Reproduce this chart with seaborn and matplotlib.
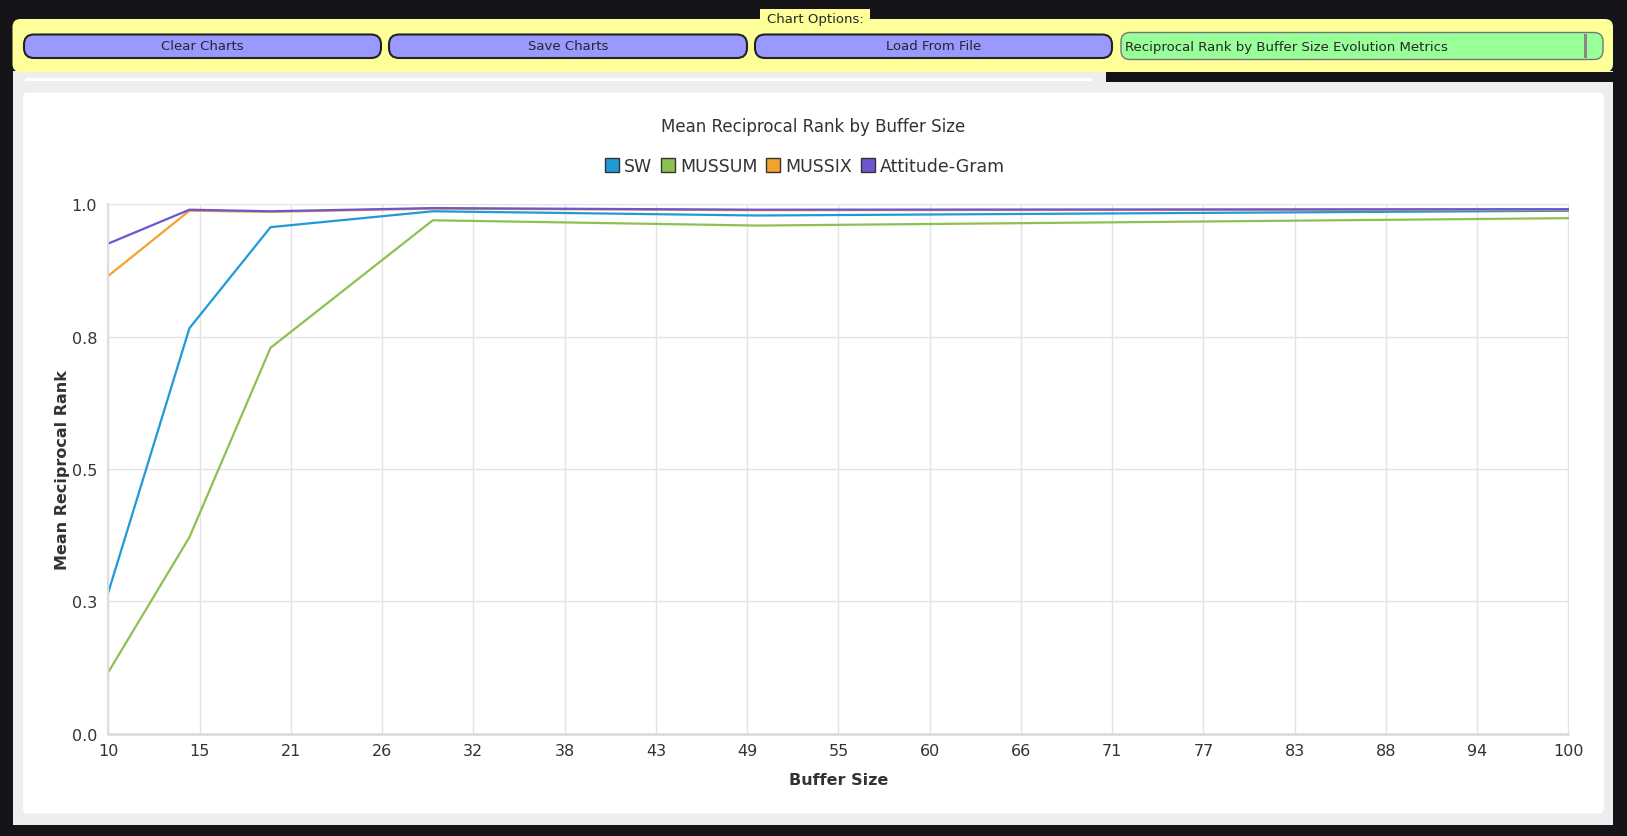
import numpy as np
import pandas as pd
import seaborn as sns
import matplotlib.pyplot as plt
from matplotlib.patches import FancyBboxPatch, Patch

# Chart data
buffer_sizes = [10, 15, 20, 30, 50, 100]
sw_mrr = [0.267, 0.766, 0.957, 0.987, 0.979, 0.988]
mussum_mrr = [0.116, 0.371, 0.729, 0.970, 0.960, 0.974]
mussix_mrr = [0.865, 0.988, 0.986, 0.992, 0.989, 0.990]
attitude_mrr = [0.926, 0.990, 0.987, 0.993, 0.990, 0.991]

series_names = ["SW", "MUSSUM", "MUSSIX", "Attitude-Gram"]
series_colors = ["#1e9bd7", "#8cc152", "#f2a22e", "#6f55cf"]

y_ticks = [0.0, 0.25, 0.5, 0.75, 1.0]
x_ticks = np.linspace(10, 100, 17)

W, H = 1627, 837

sns.set_theme(style="whitegrid")
plt.rcParams['font.family'] = ['DejaVu Sans']

fig = plt.figure(figsize=(W / 100, H / 100), dpi=100)
fig.patch.set_facecolor("#131318")


def box(x0, y0, x1, y1, fc, ec="none", lw=0, rad=0, z=0):
    # pixel coords with top-left origin -> display coords
    p = FancyBboxPatch((x0, H - y1), x1 - x0, y1 - y0,
                       boxstyle=f"round,pad=0,rounding_size={rad}" if rad else "square,pad=0",
                       fc=fc, ec=ec, lw=lw, transform=None, zorder=z)
    fig.patches.append(p)


def ftext(x, y, s, **kw):
    fig.text(x / W, 1 - y / H, s, **kw)


# page decorations (options bar, buttons, panels)
box(12.5, 72, 1613, 826, "#eeeeee")
box(12.5, 20, 1613, 73, "#ffff99", rad=8, z=1)
box(1106, 73, 1613, 83, "#131318", z=1)
box(25, 79, 1092, 82, "#ffffff", z=1)
box(760, 10, 870, 29, "#ffff99", z=2)
ftext(815, 19.5, "Chart Options:", ha="center", va="center", fontsize=9.5, zorder=3)

buttons = [("Clear Charts", 24, 381), ("Save Charts", 389, 747), ("Load From File", 755, 1112)]
for label, bx0, bx1 in buttons:
    box(bx0, 35.5, bx1, 59, "#9999ff", ec="#222222", lw=1.5, rad=10, z=2)
    ftext((bx0 + bx1) / 2, 47, label, ha="center", va="center", fontsize=9.5, zorder=3)

box(1121, 33.5, 1603, 60.5, "#99ff99", ec="#777777", lw=1, rad=9, z=2)
box(1584, 35, 1587, 59, "#888888", z=3)
ftext(1125, 47, "Reciprocal Rank by Buffer Size Evolution Metrics",
      ha="left", va="center", fontsize=9.5, zorder=3)

box(23, 93.5, 1604, 814.5, "#ffffff", rad=5, z=1)

# long-format data for seaborn
df = pd.DataFrame({
    "Buffer Size": buffer_sizes * 4,
    "Mean Reciprocal Rank": sw_mrr + mussum_mrr + mussix_mrr + attitude_mrr,
    "Method": sum([[n] * len(buffer_sizes) for n in series_names], []),
})

ax = fig.add_axes([108.3 / W, 1 - 734.6 / H, (1568.5 - 108.3) / W, (734.6 - 205.4) / H])
ax.set_zorder(5)
ax.set_facecolor("none")

sns.lineplot(data=df, x="Buffer Size", y="Mean Reciprocal Rank", hue="Method",
             palette=dict(zip(series_names, series_colors)), linewidth=1.6,
             legend=False, ax=ax)

ax.set_xlim(10, 100)
ax.set_ylim(0, 1.0)
ax.set_xticks(x_ticks)
ax.set_xticklabels([str(int(np.floor(t))) for t in x_ticks])
ax.set_yticks(y_ticks)
ax.set_yticklabels(["%.1f" % (t + 1e-9) for t in y_ticks])
ax.grid(True, color="#e3e3e3", lw=1)
ax.tick_params(axis="both", labelsize=11.5, colors="#333333", length=5, width=1,
               color="#dddddd", pad=3)
ax.tick_params(axis="x", pad=2)
for side in ["top", "right"]:
    ax.spines[side].set_visible(False)
ax.spines["left"].set_color("#dddddd")
ax.spines["left"].set_linewidth(1.5)
ax.spines["bottom"].set_color("#dddddd")
ax.spines["bottom"].set_linewidth(2)

ax.set_xlabel("Buffer Size", fontsize=11.5, fontweight="bold", color="#333333", labelpad=10)
ax.set_ylabel("Mean Reciprocal Rank", fontsize=11.5, fontweight="bold", color="#333333", labelpad=1)

ftext(813, 127, "Mean Reciprocal Rank by Buffer Size", ha="center", va="center",
      fontsize=12, color="#333333", zorder=6)

handles = [Patch(facecolor=c, edgecolor="#333333", lw=1, label=n)
           for n, c in zip(series_names, series_colors)]
fig.legend(handles=handles, loc="center", bbox_to_anchor=(805 / W, 1 - 167 / H), ncol=4,
           frameon=False, fontsize=12.5, handlelength=0.8, handleheight=0.8,
           handletextpad=0.3, columnspacing=0.5, labelcolor="#333333")

fig.savefig("out.png", dpi=100, facecolor=fig.get_facecolor())
